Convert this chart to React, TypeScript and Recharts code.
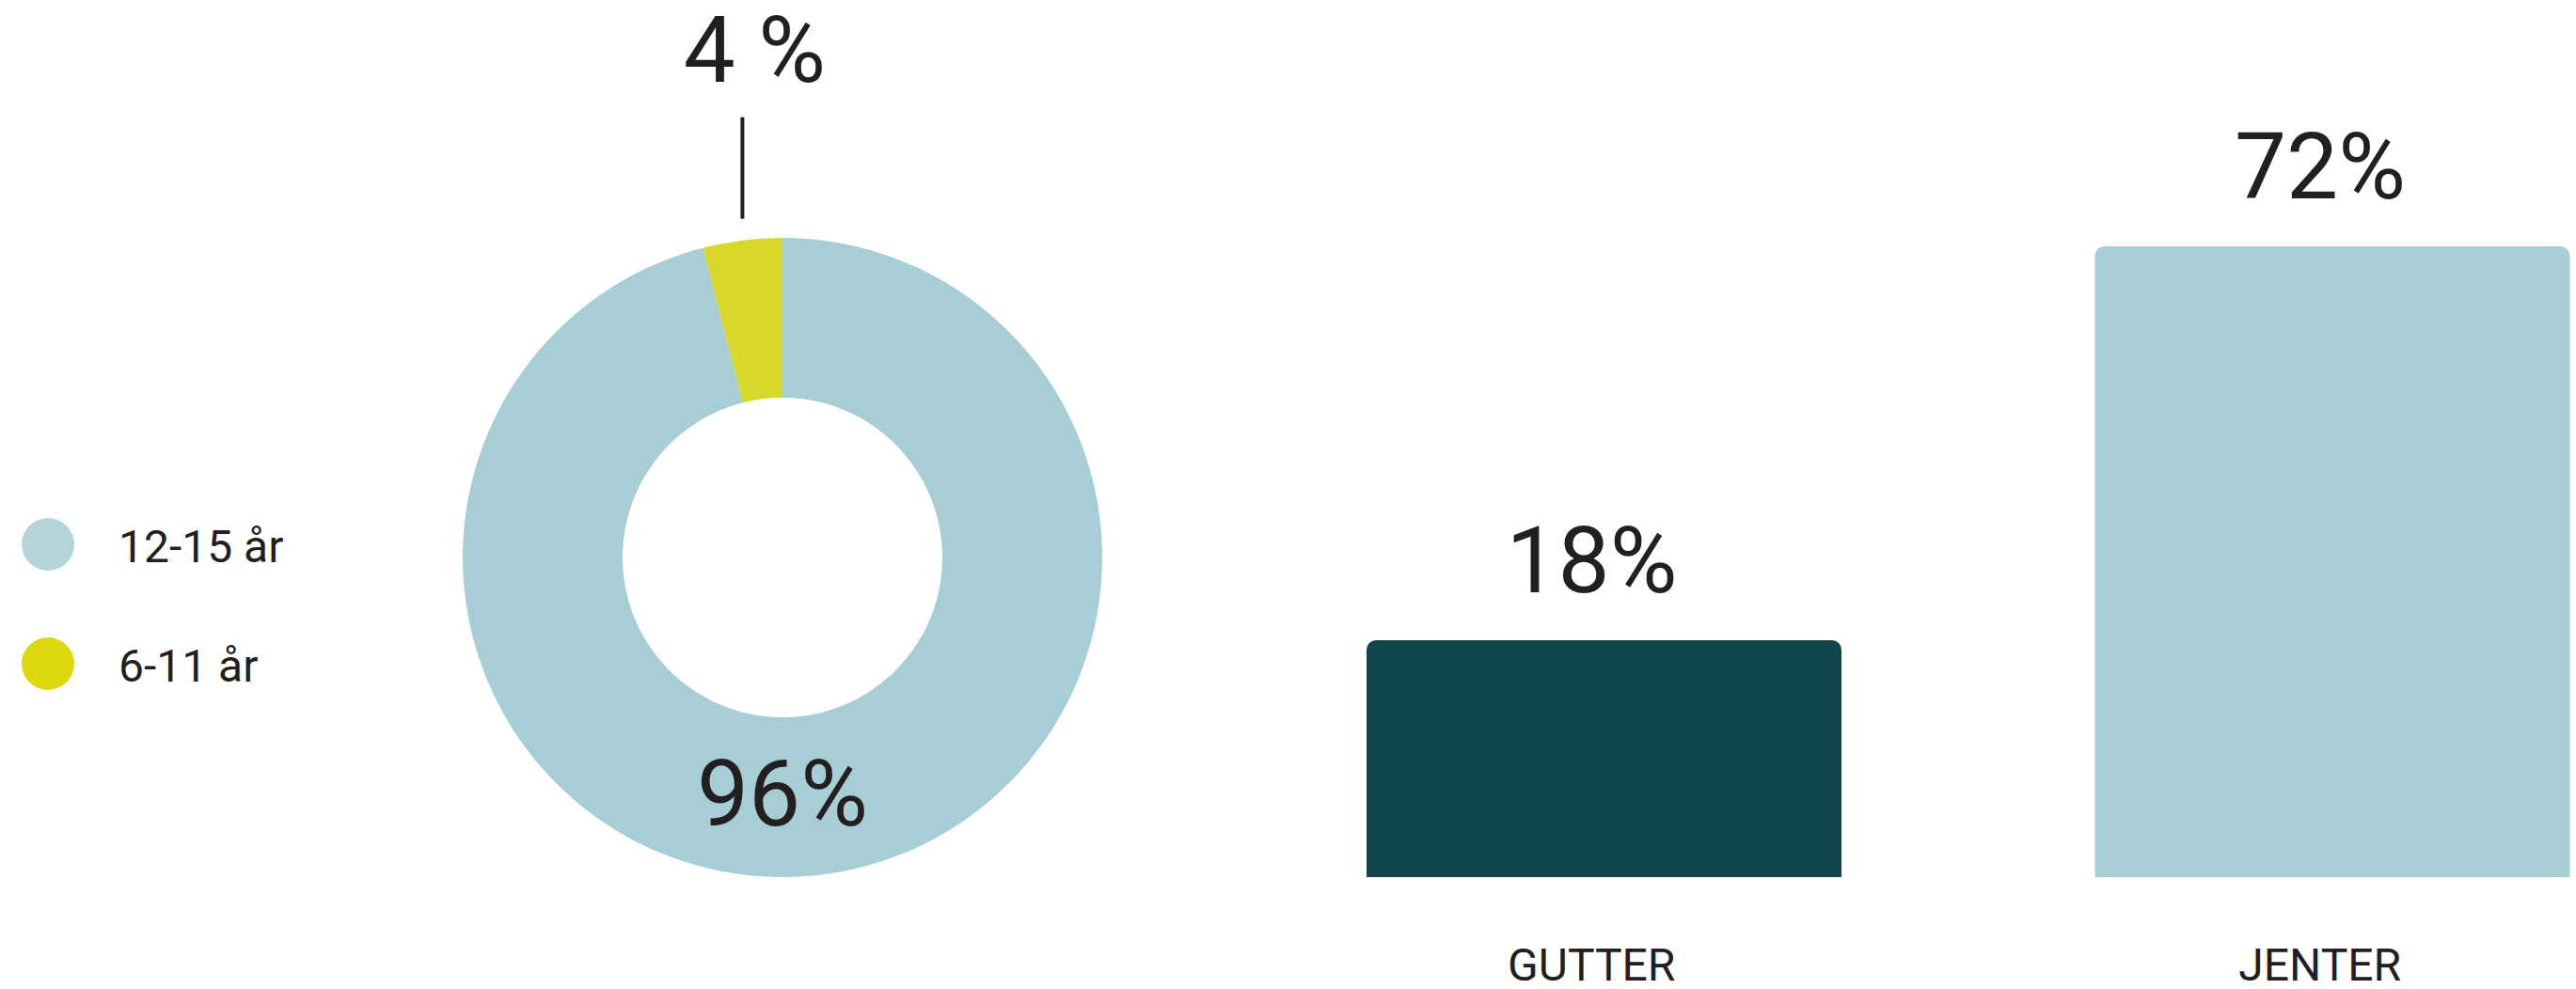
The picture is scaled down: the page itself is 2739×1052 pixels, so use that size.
import { Bar, BarChart, Cell, LabelList, Legend, Pie, PieChart, XAxis, YAxis } from "recharts";

const FONT = "Roboto, 'Noto Sans', sans-serif";
const INK = "#231F20";
const RAD = Math.PI / 180;

// Aldersfordeling (smultring)
const ageGroups = ["6-11 år", "12-15 år"];
const ageShares = [4, 96];
const ageLabels = ["4 %", "96%"];
const ageColors = ["#D7D829", "#A7CED4"];
const legendColors = ["#DDD80B", "#B3D5DA"];

// Kjønn (stolper)
const genders = ["GUTTER", "JENTER"];
const genderShares = [18, 72];
const genderColors = ["#12464D", "#A7CED4"];

const pieData = ageGroups.map((name, i) => ({ name, value: ageShares[i], text: ageLabels[i], color: ageColors[i] }));
const barData = genders.map((name, i) => ({ name, value: genderShares[i], color: genderColors[i] }));

function PieLabel(props: any) {
  const { cx, cy, midAngle, innerRadius, outerRadius, index } = props;
  const text = pieData[index].text;
  if (index === 0) {
    const x = cx + outerRadius * Math.cos(-midAngle * RAD);
    const y = cy + outerRadius * Math.sin(-midAngle * RAD);
    return (
      <g>
        <line x1={x} x2={x} y1={y - 23} y2={y - 131} stroke={INK} strokeWidth={4} />
        <text x={x + 13} y={y - 169} textAnchor="middle" fontSize={98} fill={INK} fontFamily={FONT}>
          {text}
        </text>
      </g>
    );
  }
  return (
    <text x={cx} y={cy + (innerRadius + outerRadius) / 2 + 30} textAnchor="middle" fontSize={98} fill={INK} fontFamily={FONT}>
      {text}
    </text>
  );
}

function AgeLegend() {
  // 12-15 først, som i originalen
  const order = [1, 0];
  return (
    <div style={{ display: "flex", flexDirection: "column", gap: 71 }}>
      {order.map((i) => (
        <div key={ageGroups[i]} style={{ display: "flex", alignItems: "center", height: 56 }}>
          <span style={{ width: 56, height: 56, borderRadius: "50%", background: legendColors[i], flexShrink: 0 }} />
          <span style={{ marginLeft: 47, fontSize: 48, lineHeight: "56px", color: INK, fontFamily: FONT, position: "relative", top: 3 }}>
            {ageGroups[i]}
          </span>
        </div>
      ))}
    </div>
  );
}

export default function App() {
  return (
    <div style={{ position: "absolute", left: 0, top: 0, width: 2739, height: 1052, overflow: "hidden", background: "#fff", fontFamily: FONT }}>
      <div style={{ position: "absolute", left: 0, top: 0 }}>
        <PieChart width={1200} height={1052} margin={{ top: 0, right: 0, bottom: 0, left: 0 }}>
          <Pie
            data={pieData}
            dataKey="value"
            nameKey="name"
            cx={832}
            cy={593}
            innerRadius={170}
            outerRadius={340}
            startAngle={90}
            endAngle={450}
            stroke="none"
            label={PieLabel}
            labelLine={false}
            isAnimationActive={false}
          >
            {pieData.map((d) => (
              <Cell key={d.name} fill={d.color} stroke="none" />
            ))}
          </Pie>
          <Legend
            layout="horizontal"
            align="center"
            verticalAlign="middle"
            wrapperStyle={{ left: 23, top: 551, width: 320 }}
            content={<AgeLegend />}
          />
        </PieChart>
      </div>

      <div style={{ position: "absolute", left: 1300, top: 0 }}>
        <BarChart
          width={1577}
          height={1052}
          data={barData}
          margin={{ top: 262, right: 10, bottom: 0, left: 18 }}
          barSize={505}
        >
          <XAxis
            dataKey="name"
            axisLine={false}
            tickLine={false}
            tickSize={0}
            tickMargin={76}
            height={119}
            interval={0}
            tick={{ fontSize: 48, fill: INK, fontFamily: FONT, dx: -13 }}
          />
          {/* skalaen er ikke lineær i originalen */}
          <YAxis hide type="number" scale="sqrt" domain={[2.857, 72]} allowDataOverflow />
          <Bar dataKey="value" radius={[10, 10, 0, 0]} isAnimationActive={false}>
            {barData.map((d) => (
              <Cell key={d.name} fill={d.color} />
            ))}
            <LabelList
              dataKey="value"
              position="top"
              offset={51}
              formatter={(v: any) => `${v}%`}
              fill={INK}
              fontSize={98}
              fontFamily={FONT}
              dx={-13}
            />
          </Bar>
        </BarChart>
      </div>
    </div>
  );
}
